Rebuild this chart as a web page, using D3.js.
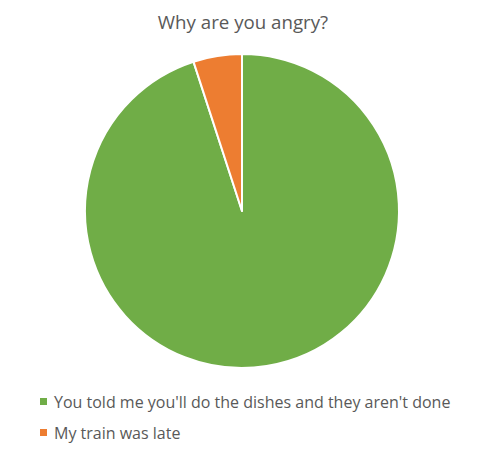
<!DOCTYPE html>
<html><head><meta charset="utf-8">
<script src="https://cdn.jsdelivr.net/npm/d3@7"></script>
<style>body{margin:0;background:#fff}</style>
</head><body>
<svg id="c" width="487" height="452"></svg>
<script>
const categories = ["You told me you'll do the dishes and they aren't done", "My train was late"];
const values = [95, 5];
const colors = ["#70AD47", "#ED7D31"];
const title = "Why are you angry?";

const svg = d3.select("#c");
const font = "'Open Sans', 'Segoe UI', sans-serif";
svg.append("text").attr("x", 243).attr("y", 29).attr("text-anchor", "middle")
  .attr("font-family", font).attr("font-size", 18.7).attr("fill", "#595959").text(title);

const cx = 242, cy = 211, r = 157;
const pie = d3.pie().sort(null);
const arc = d3.arc().innerRadius(0).outerRadius(r);
const g = svg.append("g").attr("transform", `translate(${cx},${cy})`);
g.selectAll("path").data(pie(values)).join("path")
  .attr("d", arc).attr("fill", (d, i) => colors[i])
  .attr("stroke", "#fff").attr("stroke-width", 2).attr("stroke-linejoin", "round");

const leg = svg.append("g");
categories.forEach((c, i) => {
  const y = 402 + i * 31;
  leg.append("rect").attr("x", 40).attr("y", y - 4).attr("width", 7).attr("height", 7).attr("fill", colors[i]);
  leg.append("text").attr("x", 54).attr("y", y + 6).attr("font-family", font)
    .attr("font-size", 16).attr("fill", "#595959").text(c);
});
</script>
</body></html>
